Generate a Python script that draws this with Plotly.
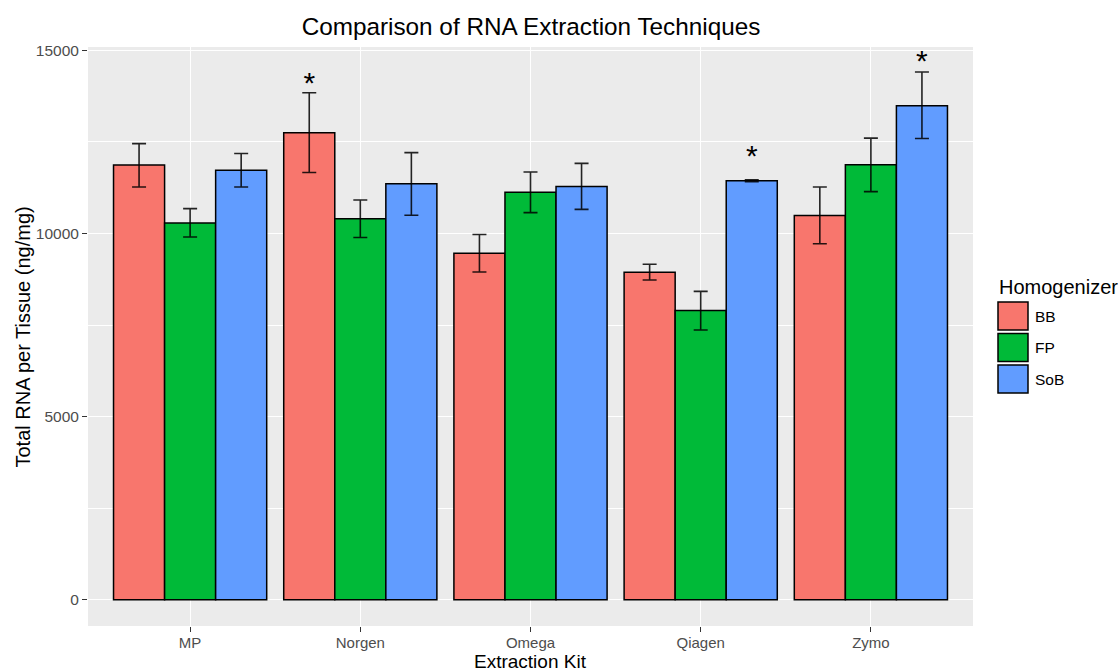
import plotly.graph_objects as go

kits = ["MP", "Norgen", "Omega", "Qiagen", "Zymo"]
homogenizers = ["BB", "FP", "SoB"]
colors = {"BB": "#F8766D", "FP": "#00BA38", "SoB": "#619CFF"}

means = {
    "BB":  [11870, 12755, 9460, 8940, 10495],
    "FP":  [10290, 10400, 11125, 7900, 11880],
    "SoB": [11725, 11360, 11285, 11443, 13490],
}
upper = {
    "BB":  [12455, 13845, 9975, 9160, 11270],
    "FP":  [10680, 10915, 11680, 8420, 12605],
    "SoB": [12185, 12210, 11915, 11470, 14410],
}
lower = {
    "BB":  [11270, 11665, 8950, 8730, 9720],
    "FP":  [9905, 9890, 10570, 7365, 11145],
    "SoB": [11270, 10500, 10660, 11415, 12595],
}
# significance marks (asterisk positions, None = no mark)
stars = {
    "BB":  [None, 14050, None, None, None],
    "FP":  [None, None, None, None, None],
    "SoB": [None, None, None, 12045, 14655],
}

FONT = "Liberation Sans, Arial, Helvetica, sans-serif"
W, H = 1118, 672
ML, MR, MT, MB = 88, 145, 47, 46
PW, PH = W - ML - MR, H - MT - MB


def px(x):
    return (x - ML) / PW


def py(y):
    return (H - MB - y) / PH


fig = go.Figure()
for h in homogenizers:
    fig.add_trace(go.Bar(
        x=kits, y=means[h], name=h,
        offsetgroup=h, alignmentgroup="a",
        marker=dict(color=colors[h], line=dict(color="black", width=1.5)),
        error_y=dict(type="data", symmetric=False,
                     array=[u - m for u, m in zip(upper[h], means[h])],
                     arrayminus=[m - l for m, l in zip(means[h], lower[h])],
                     color="rgba(0,0,0,0.85)", thickness=1.6, width=7),
        showlegend=False,
    ))
for h in homogenizers:
    fig.add_trace(go.Scatter(
        x=kits, y=stars[h], mode="text",
        text=["*" if s is not None else "" for s in stars[h]],
        textposition="middle center",
        textfont=dict(family=FONT, size=30, color="black"),
        offsetgroup=h, alignmentgroup="a",
        showlegend=False, hoverinfo="skip",
    ))

# legend (drawn manually to match ggplot keys)
shapes = []
annotations = []
key_rows = [(302, 330), (333.5, 361.5), (365, 393)]
for h, (y0, y1) in zip(homogenizers, key_rows):
    shapes.append(dict(type="rect", xref="paper", yref="paper",
                       x0=px(998), x1=px(1028), y0=py(y1), y1=py(y0),
                       fillcolor=colors[h], line=dict(color="black", width=1.5)))
    annotations.append(dict(text=h, xref="paper", yref="paper",
                            x=px(1033), y=py((y0 + y1) / 2),
                            xanchor="left", yanchor="middle", showarrow=False,
                            font=dict(family=FONT, size=15.5, color="black")))
annotations.append(dict(text="Homogenizer", xref="paper", yref="paper",
                        x=px(997), y=py(287), xanchor="left", yanchor="middle",
                        showarrow=False, font=dict(family=FONT, size=20, color="black")))
annotations.append(dict(text="Extraction Kit", xref="paper", yref="paper",
                        x=0.5, y=py(661.5), xanchor="center", yanchor="middle",
                        showarrow=False, font=dict(family=FONT, size=19, color="black")))
annotations.append(dict(text="Total RNA per Tissue (ng/mg)", xref="paper", yref="paper",
                        x=px(22), y=py(337.5), xanchor="center", yanchor="middle",
                        textangle=-90, showarrow=False,
                        font=dict(family=FONT, size=20, color="black")))

fig.update_layout(
    width=W, height=H,
    margin=dict(l=ML, r=MR, t=MT, b=MB, pad=0),
    paper_bgcolor="white", plot_bgcolor="#EBEBEB",
    barmode="group", bargap=0.1, bargroupgap=0,
    scattermode="group", scattergap=0.1,
    title=dict(text="Comparison of RNA Extraction Techniques",
               x=px(531), xanchor="center", xref="paper",
               y=1 - 26 / H, yanchor="middle", yref="container",
               font=dict(family=FONT, size=24.3, color="black")),
    font=dict(family=FONT),
    shapes=shapes, annotations=annotations,
    showlegend=False,
)
fig.update_xaxes(
    type="category", categoryorder="array", categoryarray=kits,
    range=[-0.6, 4.6], showgrid=True, gridcolor="white", gridwidth=1.4,
    ticks="outside", ticklen=5, tickwidth=1, tickcolor="#333333",
    ticklabelstandoff=-2,
    tickfont=dict(family=FONT, size=15, color="#4D4D4D"),
    showline=False, zeroline=False,
)
fig.update_yaxes(
    range=[-719, 15094], tickmode="linear", tick0=0, dtick=5000, tickformat="d",
    showgrid=True, gridcolor="white", gridwidth=1.4,
    minor=dict(dtick=2500, tick0=0, showgrid=True, gridcolor="white", gridwidth=0.7, ticks=""),
    ticks="outside", ticklen=5, tickwidth=1, tickcolor="#333333",
    tickfont=dict(family=FONT, size=15.5, color="#4D4D4D"),
    showline=False, zeroline=False,
)

fig.write_html("out.html")
